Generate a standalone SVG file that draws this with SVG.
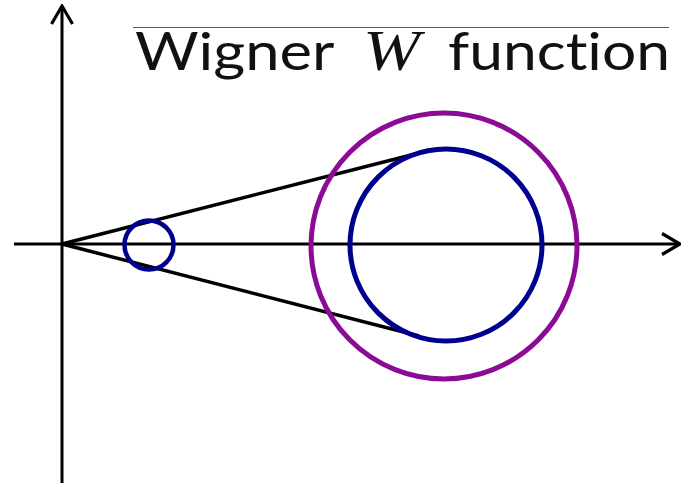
<svg xmlns="http://www.w3.org/2000/svg" width="681" height="485" viewBox="0 0 681 485">
<style>
.axis{stroke:#000;stroke-width:3;fill:none}
.tan{stroke:#000;stroke-width:3.5;fill:none}
.title{font-family:Lato,"Open Sans",sans-serif;font-size:53px;fill:#111;font-variant-ligatures:none;font-feature-settings:"liga" 0,"dlig" 0}
.math{font-family:"Liberation Serif",serif;font-style:italic;font-size:56px}
</style>
<defs>
<marker id="arr" viewBox="0 0 22 24" refX="20" refY="12" markerWidth="22" markerHeight="24" markerUnits="userSpaceOnUse" orient="auto">
<path d="M2,1.5 L20,12 L2,22.5" fill="none" stroke="#000" stroke-width="3.2"/>
</marker>
</defs>
<g id="title">
<line x1="133" y1="27.5" x2="669" y2="27.5" stroke="#0a6ccc" stroke-width="1.2"/>
<text class="title" y="70"><tspan x="135" textLength="198" lengthAdjust="spacingAndGlyphs">Wigner</tspan> <tspan class="math" x="363" textLength="57" lengthAdjust="spacingAndGlyphs">W</tspan> <tspan x="448" textLength="222" lengthAdjust="spacingAndGlyphs">function</tspan></text>
</g>
<g id="connectors">
<line class="axis" x1="62" y1="483" x2="62" y2="6" marker-end="url(#arr)"/>
<line class="axis" x1="14" y1="244" x2="680" y2="244" marker-end="url(#arr)"/>
<line class="tan" x1="62" y1="244" x2="419" y2="153"/>
<line class="tan" x1="62" y1="244" x2="419" y2="336"/>
</g>
<g id="outer-circle"><circle cx="444" cy="246" r="133" fill="none" stroke="#8b0a96" stroke-width="5"/></g>
<g id="inner-circle"><circle cx="446" cy="245" r="96" fill="none" stroke="#00008f" stroke-width="5"/></g>
<g id="small-circle"><circle cx="149" cy="245" r="24.5" fill="none" stroke="#00008f" stroke-width="4.5"/></g>
</svg>
